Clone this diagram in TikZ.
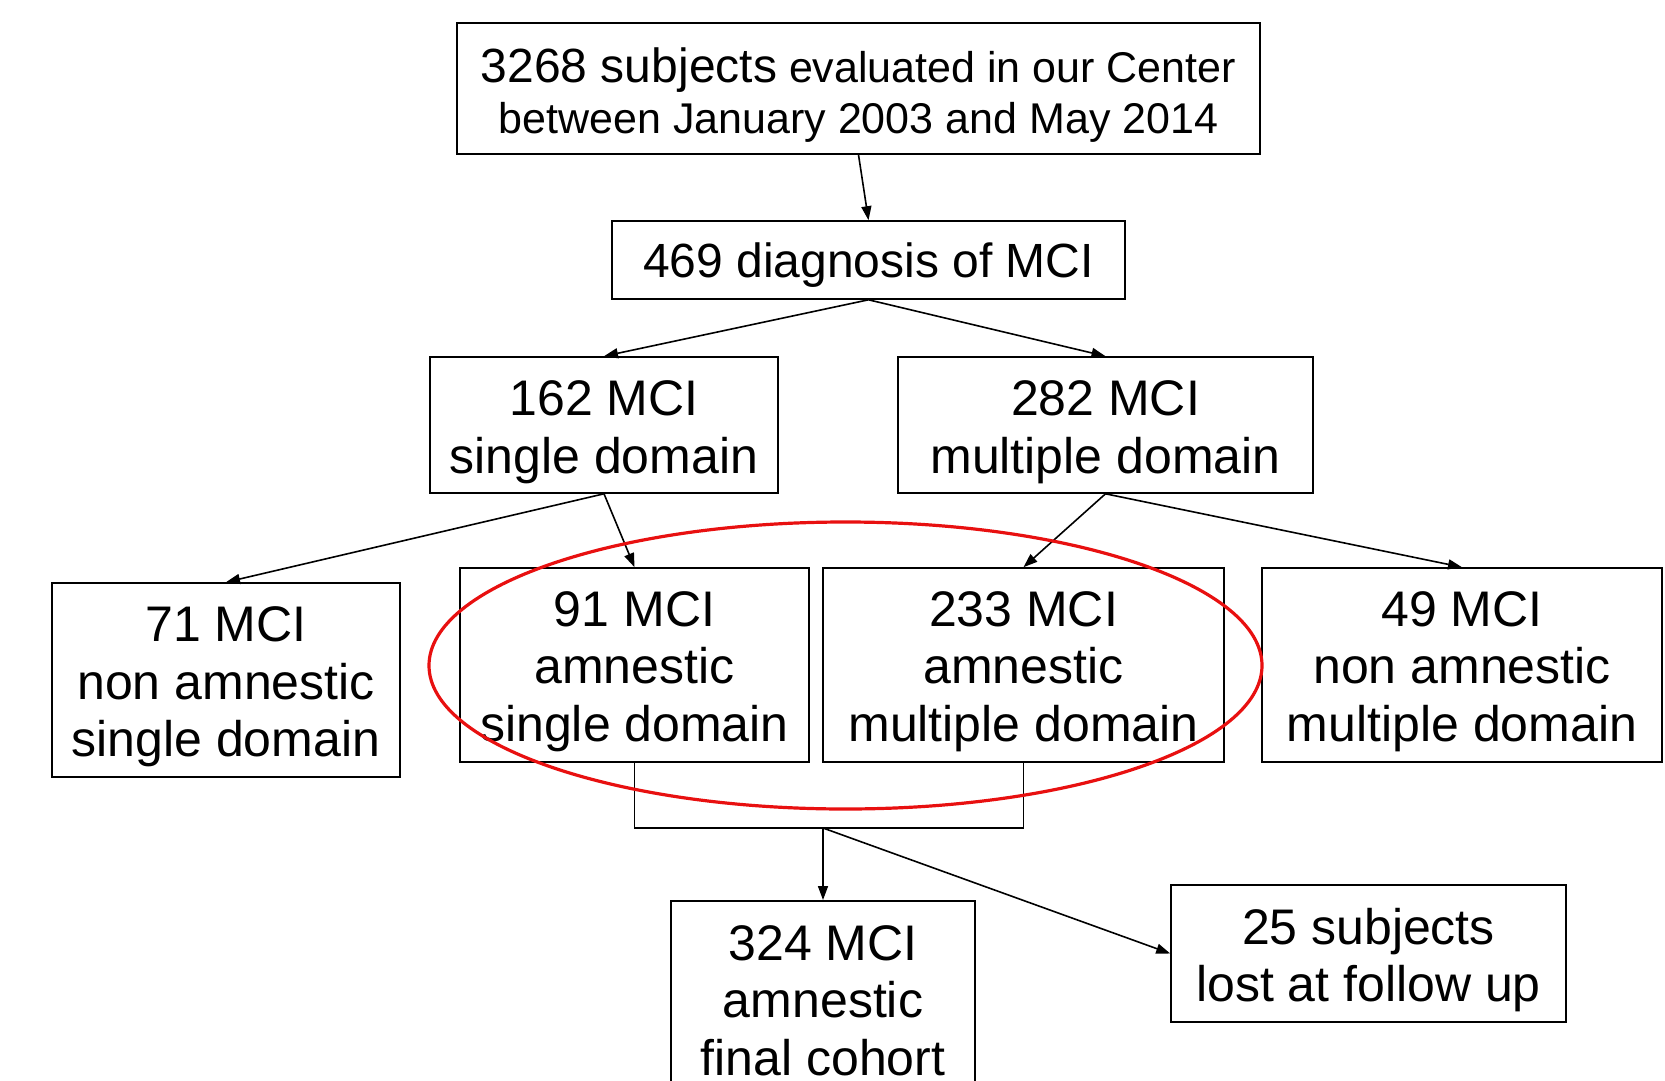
\documentclass[tikz,border=0pt]{standalone}
\usepackage{fontspec}
\setmainfont{Liberation Sans}
\usetikzlibrary{arrows.meta}
\definecolor{ellred}{RGB}{232,16,16}
\newcommand{\boxtext}[2]{\raisebox{0pt}[\dimexpr\height+#1\relax][\depth]{\begin{tabular}{@{}c@{}}#2\end{tabular}}}
\begin{document}
\begin{tikzpicture}[x=0.5pt,y=-0.5pt,
  box/.style={draw, line width=0.8pt, rectangle, inner sep=0pt,
              font=\fontsize{25}{28.75}\selectfont},
  arr/.style={-{Triangle[length=7pt,width=5pt]}, line width=0.8pt},
  link/.style={line width=0.8pt},
  ring/.style={draw=ellred, line width=1.6pt}
  ]
\useasboundingbox (0,0) rectangle (1665,1081);
\clip (0,0) rectangle (1665,1081);

\node[box, minimum width=401.5pt, minimum height=65.5pt, font=\fontsize{21.5}{25.5}\selectfont]
  (top) at (858.5,88.5) {\boxtext{9pt}{{\fontsize{24}{25.5}\selectfont 3268 subjects} evaluated in our Center\\between January 2003 and May 2014}};
\node[box, minimum width=256.5pt, minimum height=39pt, font=\fontsize{24}{27}\selectfont]
  (d469) at (868.5,260) {\boxtext{6.4pt}{469 diagnosis of MCI}};
\node[box, minimum width=174pt, minimum height=68pt] (b162) at (604,425) {\boxtext{8pt}{162 MCI\\single domain}};
\node[box, minimum width=207.5pt, minimum height=68pt] (b282) at (1105.5,425) {\boxtext{8pt}{282 MCI\\multiple domain}};
\node[box, minimum width=174pt, minimum height=97pt] (b71) at (226,680) {\boxtext{7.8pt}{71 MCI\\non amnestic\\single domain}};
\node[box, minimum width=174.5pt, minimum height=97pt] (b91) at (634.5,665) {\boxtext{7pt}{91 MCI\\amnestic\\single domain}};
\node[box, minimum width=200.5pt, minimum height=97pt] (b233) at (1023.5,665) {\boxtext{7pt}{233 MCI\\amnestic\\multiple domain}};
\node[box, minimum width=200pt, minimum height=97pt] (b49) at (1462,665) {\boxtext{7pt}{49 MCI\\non amnestic\\multiple domain}};
\node[box, minimum width=152pt, minimum height=100pt, anchor=north] (b324) at (823,900) {\boxtext{5.3pt}{324 MCI\\amnestic\\final cohort}};
\node[box, minimum width=197.5pt, minimum height=68.5pt] (b25) at (1368.5,953.5) {\boxtext{8pt}{25 subjects\\lost at follow up}};

\coordinate (j) at (823,828);

\draw[arr] (top.south) -- (d469.north);
\draw[arr] (d469.south) -- (b162.north);
\draw[arr] (d469.south) -- (b282.north);
\draw[arr] (b162.south) -- (b71.north);
\draw[arr] (b162.south) -- (b91.north);
\draw[arr] (b282.south) -- (b233.north);
\draw[arr] (b282.south) -- (b49.north);
\draw[link] (b91.south) -- (b91.south |- j) -- (b233.south |- j) -- (b233.south);
\draw[arr] (j) -- (b324.north);
\draw[arr] (j) -- (b25.west);

\draw[ring] (845.5,665.5) ellipse [x radius=416.5, y radius=143.5];
\end{tikzpicture}
\end{document}
